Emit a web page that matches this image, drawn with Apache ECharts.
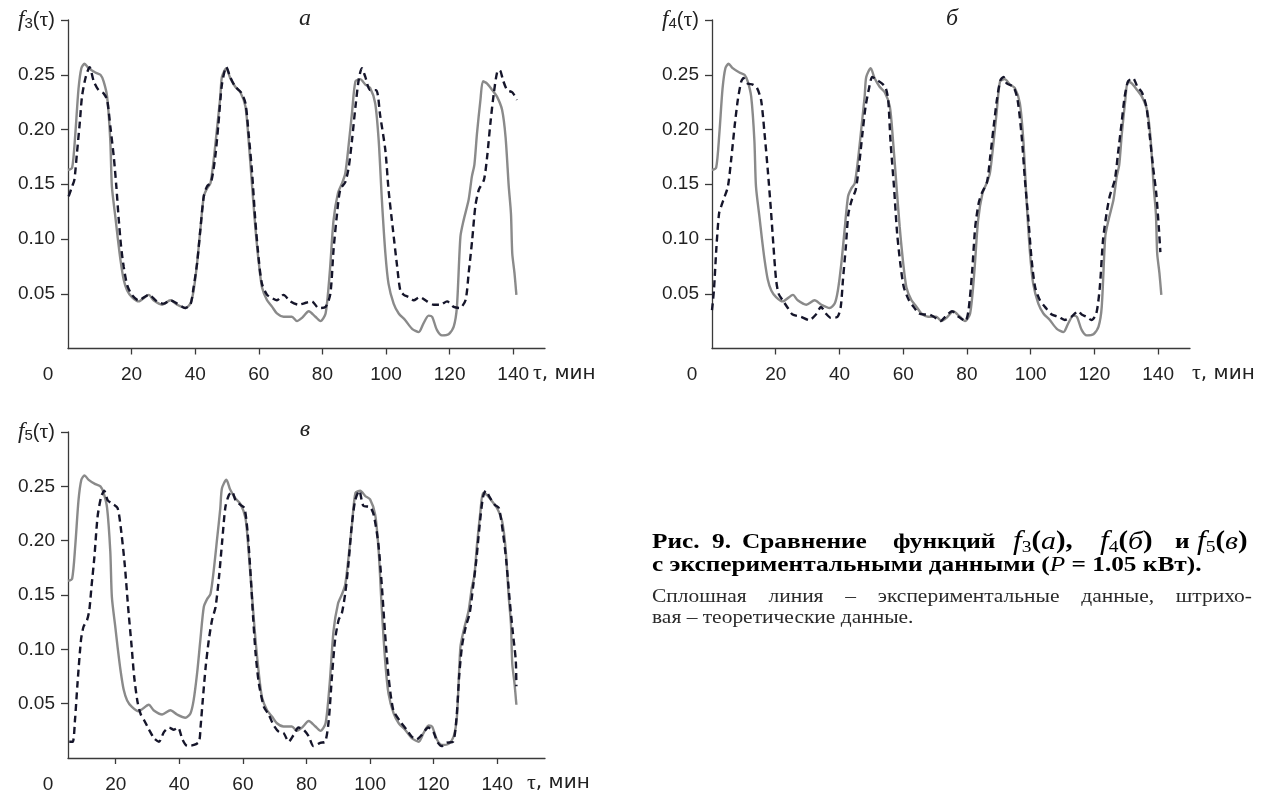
<!DOCTYPE html>
<html>
<head>
<meta charset="utf-8">
<script src="https://cdn.jsdelivr.net/npm/echarts@6/dist/echarts.min.js"></script>
<style>
  html, body { margin: 0; padding: 0; background: #fff; }
  #main { width: 1270px; height: 794px; }
</style>
</head>
<body>
<div id="main"></div>
<script>
// experimental data (solid line), same curve in panels а and б
const expTime = [0, 1.3, 2.3, 3.3, 4.2, 5.2, 6.5, 8.6, 10.2, 11.2, 12.3, 13.3, 13.8, 14.9, 15.6, 16.5, 17.5, 18.6, 20.1, 22.2,
  25.4, 26.9, 29.6, 32.2, 34.3, 36.9, 38.5, 39.5, 40.6, 41.6, 42.7, 43.7, 44.8, 45.8, 46.9, 47.9, 48.4, 49.8, 51, 52.6,
  54.2, 55.8, 56.8, 57.9, 58.9, 60, 61, 62.6, 64.2, 65.7, 67.8, 70.4, 72, 73.6, 75.7, 77.8, 79.4, 81, 82.3, 83.5,
  84.9, 86.2, 87.2, 88.3, 89.3, 90.4, 91.9, 93.5, 95, 96.6, 97.7, 98.7, 99.8, 100.8, 102.4, 104, 106, 108.2, 110.3, 111.8,
  113.4, 114.5, 116, 117.6, 119.7, 121.3, 122.3, 123.4, 124.4, 126, 127, 127.8, 128.6, 129.7, 130.5, 131.8, 133.4, 134.9, 136.5, 137.6,
  138.6, 139.3, 139.7, 140.4, 141];
const expVal = [0.163, 0.165, 0.196, 0.237, 0.256, 0.260, 0.256, 0.252, 0.250, 0.244, 0.230, 0.190, 0.148, 0.120, 0.102, 0.081, 0.063, 0.053, 0.047, 0.043,
  0.049, 0.044, 0.040, 0.044, 0.040, 0.037, 0.041, 0.053, 0.078, 0.108, 0.139, 0.146, 0.151, 0.172, 0.202, 0.230, 0.248, 0.256, 0.247, 0.239,
  0.234, 0.221, 0.190, 0.148, 0.111, 0.078, 0.056, 0.044, 0.038, 0.032, 0.029, 0.029, 0.025, 0.028, 0.034, 0.029, 0.025, 0.032, 0.069, 0.117,
  0.142, 0.151, 0.160, 0.187, 0.215, 0.244, 0.246, 0.241, 0.238, 0.224, 0.190, 0.136, 0.087, 0.059, 0.041, 0.032, 0.026, 0.018, 0.015, 0.023,
  0.030, 0.029, 0.017, 0.012, 0.013, 0.020, 0.038, 0.102, 0.117, 0.136, 0.157, 0.168, 0.196, 0.227, 0.244, 0.242, 0.236, 0.230, 0.218, 0.193,
  0.148, 0.123, 0.087, 0.069, 0.049];
// the same experimental curve as drawn in panel в (time axis starts at 5)
const expTimeV = [5, 6.3, 7.3, 8.3, 9.2, 10.2, 11.5, 13.6, 15.2, 16.2, 17.3, 18.3, 18.8, 19.9, 20.6, 21.5, 22.5, 23.6, 25.1, 27.2,
  30.4, 31.9, 34.6, 37.2, 39.3, 41.9, 43.5, 44.5, 45.6, 46.6, 47.7, 48.7, 49.8, 50.8, 51.9, 52.9, 53.4, 54.8, 56, 57.6,
  59.2, 60.8, 61.8, 62.9, 63.9, 65, 66, 67.6, 69.2, 70.7, 72.8, 75.4, 77, 78.6, 80.7, 82.8, 84.4, 86, 87.3, 88.5,
  89.9, 91.2, 92.2, 93.3, 94.3, 95.4, 96.9, 98.5, 100, 101.6, 102.7, 103.7, 104.8, 105.8, 107.4, 109, 111, 113.2, 115.3, 116.8,
  118.4, 119.5, 121, 122.6, 124.7, 126.3, 127.3, 128.4, 129.4, 131, 132, 132.8, 133.6, 134.7, 135.5, 136.8, 138.4, 139.9, 141.5, 142.6,
  143.6, 144.3, 144.7, 145.4, 146];

// theoretical f3 (dashed, panel а)
const f3Time = [0.2, 1.3, 2, 2.8, 3.7, 4.4, 5.5, 6.8, 8.1, 9.6, 11.2, 12.3, 13.3, 14.4, 15.2, 15.9, 16.7, 17.5, 18.6, 20.1,
  22.2, 25.4, 28, 30.1, 32.2, 34.3, 36.9, 38.5, 39.5, 40.6, 41.6, 42.7, 43.7, 45, 46.3, 47.3, 48.4, 49.8, 51, 52.6,
  54.4, 55.8, 56.8, 57.9, 58.9, 60, 61, 62.6, 64.2, 65.7, 67.8, 69.9, 72.5, 75.1, 76.7, 78.8, 81, 82.5, 83.5, 84.6,
  85.6, 87.2, 88.3, 89.3, 90.4, 91.4, 92.4, 93.5, 95, 96.9, 98.2, 99.8, 100.8, 102.2, 103.5, 104.5, 105.6, 107.1, 108.7, 110.6,
  112.9, 115, 117.1, 119.2, 121.3, 123.2, 125, 126, 127.1, 128.1, 129.2, 130.8, 131.8, 132.8, 133.9, 135, 135.8, 136.8, 138.1, 139.7, 141.2];
const f3Val = [0.139, 0.148, 0.154, 0.178, 0.206, 0.230, 0.247, 0.257, 0.244, 0.236, 0.233, 0.227, 0.203, 0.175, 0.148, 0.120, 0.093, 0.075, 0.058, 0.049,
  0.044, 0.049, 0.043, 0.041, 0.044, 0.041, 0.037, 0.040, 0.056, 0.078, 0.108, 0.139, 0.148, 0.152, 0.175, 0.205, 0.241, 0.257, 0.248, 0.239,
  0.234, 0.224, 0.196, 0.160, 0.117, 0.081, 0.059, 0.049, 0.046, 0.044, 0.049, 0.043, 0.040, 0.042, 0.043, 0.037, 0.038, 0.050, 0.090, 0.123,
  0.145, 0.152, 0.166, 0.190, 0.221, 0.245, 0.256, 0.248, 0.236, 0.236, 0.212, 0.181, 0.145, 0.108, 0.075, 0.053, 0.049, 0.047, 0.044, 0.047,
  0.043, 0.040, 0.040, 0.043, 0.038, 0.037, 0.044, 0.069, 0.099, 0.130, 0.145, 0.154, 0.175, 0.205, 0.233, 0.253, 0.254, 0.245, 0.236, 0.234, 0.227];

// theoretical f4 (dashed, panel б)
const f4Time = [0, 0.6, 1.4, 2.2, 2.9, 4, 5, 6, 7.1, 8.1, 9.2, 9.9, 11.2, 12.8, 14.1, 15.4, 16.5, 17.5, 18.5, 19.3,
  20.1, 20.9, 22.2, 23.8, 25.3, 27.9, 30.5, 32.6, 34.2, 35.7, 37.3, 39.4, 40.4, 41.1, 42, 42.8, 43.9, 45.1, 46.1, 47.2,
  48.2, 49.3, 50.3, 51.9, 53.4, 54.5, 55.3, 56, 57.1, 58.1, 59.2, 60.2, 61.8, 63.3, 64.9, 66.5, 68, 69.6, 71.7, 73.2,
  75.3, 77.4, 79.5, 80.5, 81.6, 82.6, 83.7, 84.7, 86.3, 87.3, 88.4, 89.4, 90.5, 91.5, 92.5, 94.6, 95.9, 97.2, 98.2, 99.3,
  100.3, 101.4, 102.9, 104.5, 106.6, 108.7, 110.7, 112.8, 114.9, 116, 117.5, 119.1, 120.6, 121.7, 122.7, 123.8, 124.8, 126.4, 127.4, 128.5,
  129.5, 130.6, 132.1, 133.5, 134.9, 136.3, 137.3, 138.4, 139.4, 140.2, 140.7];
const f4Val = [0.035, 0.053, 0.093, 0.123, 0.130, 0.139, 0.148, 0.172, 0.203, 0.227, 0.244, 0.247, 0.242, 0.241, 0.238, 0.227, 0.196, 0.163, 0.126, 0.093,
  0.063, 0.050, 0.044, 0.037, 0.031, 0.029, 0.026, 0.031, 0.038, 0.032, 0.028, 0.029, 0.038, 0.063, 0.093, 0.123, 0.136, 0.145, 0.166, 0.196,
  0.221, 0.238, 0.248, 0.245, 0.242, 0.238, 0.227, 0.190, 0.148, 0.105, 0.075, 0.056, 0.044, 0.038, 0.032, 0.031, 0.031, 0.029, 0.025, 0.029,
  0.034, 0.029, 0.025, 0.035, 0.069, 0.111, 0.133, 0.142, 0.152, 0.175, 0.203, 0.227, 0.245, 0.248, 0.242, 0.239, 0.227, 0.193, 0.154, 0.117,
  0.081, 0.056, 0.044, 0.038, 0.031, 0.029, 0.026, 0.029, 0.034, 0.031, 0.029, 0.026, 0.032, 0.056, 0.099, 0.123, 0.139, 0.154, 0.178, 0.205,
  0.230, 0.244, 0.247, 0.239, 0.234, 0.221, 0.196, 0.166, 0.142, 0.111, 0.088];

// theoretical f5 (dashed, panel в)
const f5Time = [5.4, 6.5, 7.2, 8, 9.1, 9.9, 11, 11.7, 12.4, 13.3, 14.3, 15.4, 16.4, 17.5, 19, 20.6, 21.8, 22.9, 23.9, 25,
  25.8, 26.9, 27.9, 28.9, 30.5, 32.1, 33.6, 35.2, 36.8, 38.3, 39.6, 41, 42.5, 44.6, 46.2, 46.7, 47.4, 48.3, 49.3, 50.3,
  51.4, 52.5, 53.5, 54.5, 55.6, 56.6, 57.7, 59.2, 60.5, 61.5, 62.4, 63.2, 64, 65, 66.6, 68.1, 69.7, 71.3, 72.8, 74.4,
  75.9, 77.5, 79.1, 80.7, 82.2, 84.3, 85.9, 87, 88, 89, 90.1, 91.1, 92.2, 93.2, 94.2, 95.3, 96.6, 97.9, 100, 101.2,
  102.6, 103.7, 104.7, 105.8, 107.3, 109.4, 111.5, 113, 114.6, 116.2, 118.3, 119.9, 121.1, 122.5, 124, 126.1, 127.2, 128, 128.9, 130.1,
  131.3, 132.4, 133.4, 134.5, 135.5, 136.4, 137.6, 139.2, 140.5, 141.8, 142.8, 143.9, 144.9, 145.8, 146];
const f5Val = [0.015, 0.015, 0.035, 0.069, 0.109, 0.121, 0.127, 0.136, 0.158, 0.185, 0.222, 0.240, 0.246, 0.237, 0.234, 0.230, 0.207, 0.176, 0.139, 0.103,
  0.075, 0.051, 0.040, 0.035, 0.026, 0.018, 0.015, 0.024, 0.028, 0.026, 0.028, 0.017, 0.011, 0.012, 0.015, 0.029, 0.054, 0.084, 0.109, 0.127,
  0.139, 0.167, 0.200, 0.231, 0.242, 0.245, 0.237, 0.233, 0.230, 0.207, 0.170, 0.130, 0.096, 0.069, 0.047, 0.040, 0.030, 0.024, 0.023, 0.015,
  0.021, 0.028, 0.026, 0.020, 0.011, 0.014, 0.015, 0.035, 0.075, 0.109, 0.127, 0.133, 0.152, 0.179, 0.213, 0.237, 0.246, 0.232, 0.231, 0.223,
  0.197, 0.158, 0.115, 0.075, 0.044, 0.034, 0.026, 0.020, 0.017, 0.021, 0.028, 0.024, 0.015, 0.011, 0.014, 0.015, 0.038, 0.075, 0.103, 0.121,
  0.133, 0.158, 0.182, 0.216, 0.240, 0.246, 0.240, 0.233, 0.230, 0.207, 0.182, 0.145, 0.115, 0.090, 0.066];

const xTicks = [20, 40, 60, 80, 100, 120, 140];
const yTicks = [0.05, 0.10, 0.15, 0.20, 0.25, 0.30];
const panelNames = ['3', '4', '5'];
const panelLetters = ['а', 'б', 'в'];

const sans = 'Liberation Sans';
const serif = 'Liberation Serif';
const axisColor = '#3a3a3a';
const textColor = '#222';

const zip = (xs, ys) => xs.map((x, i) => [x, ys[i]]);

const grids = [
  { left: 68, top: 20, width: 477, height: 328.5 },
  { left: 712, top: 20, width: 478, height: 328.5 },
  { left: 68, top: 432, width: 477, height: 326.5 }
];
const xRanges = [[0, 150], [0, 150], [5, 155]];
const nameGaps = [-18.5, 2, -18];

const xAxes = xRanges.map((r, i) => ({
  type: 'value',
  gridIndex: i,
  min: r[0],
  max: r[1],
  axisLine: { lineStyle: { color: axisColor, width: 1.3 } },
  axisTick: { length: 6, customValues: xTicks, lineStyle: { color: axisColor, width: 1.3 } },
  axisLabel: {
    customValues: [r[0]].concat(xTicks),
    margin: 17,
    color: textColor,
    fontFamily: sans,
    fontSize: 19,
    formatter: v => (v === r[0] ? '{o|0}' : String(v)),
    rich: { o: { fontFamily: sans, fontSize: 19, color: textColor, padding: [0, 40, 0, 0] } }
  },
  splitLine: { show: false },
  name: '{t|τ}{m|, мин}',
  nameLocation: 'end',
  nameGap: nameGaps[i],
  nameTextStyle: {
    align: 'left',
    verticalAlign: 'middle',
    padding: [50, 0, 0, 0],
    rich: {
      t: { fontFamily: serif, fontSize: 22, color: textColor },
      m: { fontFamily: 'DejaVu Sans', fontSize: 20, color: textColor }
    }
  }
}));

const yAxes = panelNames.map((n, i) => ({
  type: 'value',
  gridIndex: i,
  min: 0,
  max: 0.3,
  axisLine: { lineStyle: { color: axisColor, width: 1.3 } },
  axisTick: { length: 7, customValues: yTicks, lineStyle: { color: axisColor, width: 1.3 } },
  axisLabel: {
    customValues: yTicks,
    margin: 13,
    color: textColor,
    fontFamily: sans,
    fontSize: 19,
    formatter: v => (v > 0.29 ? '{f|f}{s|' + n + '}{p|(}{g|τ}{p|)}' : v.toFixed(2)),
    rich: {
      f: { fontFamily: serif, fontStyle: 'italic', fontSize: 23, color: textColor, lineHeight: 22, verticalAlign: 'middle' },
      s: { fontFamily: sans, fontSize: 15, color: textColor, lineHeight: 22, verticalAlign: 'bottom' },
      p: { fontFamily: sans, fontSize: 20, color: textColor, lineHeight: 22, verticalAlign: 'middle' },
      g: { fontFamily: serif, fontSize: 22, color: textColor, lineHeight: 22, verticalAlign: 'middle' }
    }
  },
  splitLine: { show: false }
}));

const solidStyle = { color: '#8a8a8a', width: 2.4 };
const dashStyle = { color: '#15152a', width: 2.4, type: [7, 4.5] };

const lineSeries = (data, idx, style, z) => ({
  type: 'line',
  xAxisIndex: idx,
  yAxisIndex: idx,
  data: data,
  showSymbol: false,
  smooth: 0.25,
  lineStyle: style,
  z: z,
  silent: true,
  animation: false
});

const series = [
  lineSeries(zip(expTime, expVal), 0, solidStyle, 2),
  lineSeries(zip(f3Time, f3Val), 0, dashStyle, 3),
  lineSeries(zip(expTime, expVal), 1, solidStyle, 2),
  lineSeries(zip(f4Time, f4Val), 1, dashStyle, 3),
  lineSeries(zip(expTimeV, expVal), 2, solidStyle, 2),
  lineSeries(zip(f5Time, f5Val), 2, dashStyle, 3)
];

const letterPos = [[305, 19], [952, 19], [305, 430]];
const letters = panelLetters.map((l, i) => ({
  type: 'text',
  x: letterPos[i][0],
  y: letterPos[i][1],
  style: {
    text: l,
    font: 'italic 24px "Liberation Serif"',
    fill: textColor,
    align: 'center',
    verticalAlign: 'middle'
  }
}));

// caption
const ink = '#1a1a1a';
const capRich = {
  b: { fontFamily: serif, fontWeight: 'bold', fontSize: 22, color: ink },
  bp: { fontFamily: serif, fontWeight: 'bold', fontSize: 25, color: ink },
  fi: { fontFamily: serif, fontStyle: 'italic', fontSize: 27, color: ink },
  sub: { fontFamily: serif, fontSize: 17, color: ink, verticalAlign: 'bottom', lineHeight: 28 },
  ci: { fontFamily: serif, fontStyle: 'italic', fontSize: 26, color: ink },
  pi: { fontFamily: serif, fontStyle: 'italic', fontSize: 22, color: ink }
};
const capScale = 1.15;
// first line of the caption: word groups at the places
const line1 = [
  [652, '{b|Рис.}'], [712, '{b|9.}'], [742, '{b|Сравнение}'], [893, '{b|функций}'],
  [1013, '{fi|f}{sub|3}{bp|(}{ci|а}{bp|),}'], [1100, '{fi|f}{sub|4}{bp|(}{ci|б}{bp|)}'],
  [1175, '{b|и}'], [1197, '{fi|f}{sub|5}{bp|(}{ci|в}{bp|)}']
];
const captionEls = line1.map(w => ({
  type: 'text', x: w[0], y: 542, scaleX: capScale,
  style: { text: w[1], rich: capRich, verticalAlign: 'middle', align: 'left' }
}));
captionEls.push({
  type: 'text', x: 652, y: 565, scaleX: capScale,
  style: {
    text: '{b|с экспериментальными данными (}{pi|P}{b| = 1.05 кВт).}',
    rich: capRich, verticalAlign: 'middle', align: 'left'
  }
});

// body text: third line justified between 652 and 1252, last line left
const bodyFont = '19px "Liberation Serif"';
const bodyScale = 1.13;
const line3 = ['Сплошная', 'линия', '–', 'экспериментальные', 'данные,', 'штрихо-'];
const ctx = document.createElement('canvas').getContext('2d');
ctx.font = bodyFont;
const widths3 = line3.map(w => ctx.measureText(w).width * bodyScale);
const gap3 = (1252 - 652 - widths3.reduce((a, b) => a + b, 0)) / (line3.length - 1);
let cx = 652;
line3.forEach((w, i) => {
  captionEls.push({
    type: 'text', x: cx, y: 597, scaleX: bodyScale,
    style: { text: w, font: bodyFont, fill: '#2a2a2a', verticalAlign: 'middle', align: 'left' }
  });
  cx += widths3[i] + gap3;
});
captionEls.push({
  type: 'text', x: 652, y: 618, scaleX: bodyScale,
  style: { text: 'вая – теоретические данные.', font: bodyFont, fill: '#2a2a2a', verticalAlign: 'middle', align: 'left' }
});

const chart = echarts.init(document.getElementById('main'), null, { renderer: 'canvas' });
chart.setOption({
  backgroundColor: '#fff',
  animation: false,
  grid: grids,
  xAxis: xAxes,
  yAxis: yAxes,
  series: series,
  graphic: letters.concat(captionEls)
});
</script>
</body>
</html>
